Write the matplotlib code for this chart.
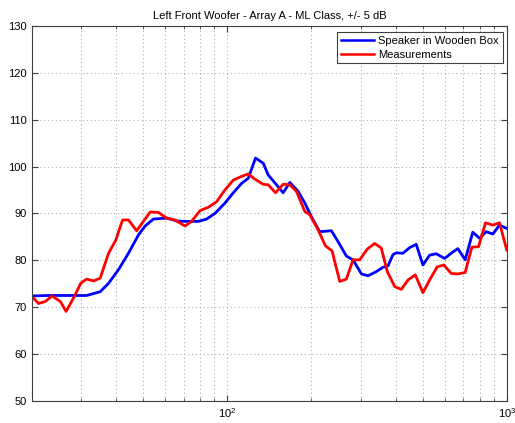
import matplotlib
matplotlib.use("Agg")
import matplotlib.pyplot as plt
from matplotlib.ticker import LogLocator, FixedLocator, NullFormatter

plt.rcParams['font.family'] = ['Liberation Sans', 'DejaVu Sans']

title = "Left Front Woofer - Array A - ML Class, +/- 5 dB"
label_box = "Speaker in Wooden Box"
label_meas = "Measurements"

box_freq = [20, 22.9, 31.4, 35.1, 37.6, 40.8, 44.3, 48.1, 50.8, 54.4, 60.7, 65.9,
            70.6, 78.8, 84.3, 90.4, 98.1, 105.1, 112.5, 118.9, 126.2, 134.5, 140.1,
            150, 158.5, 167.4, 179.3, 189.5, 200, 214.3, 235.8, 249, 266.8, 281.8,
            302, 318.9, 341.5, 360.6, 375.8, 391.5, 402.4, 425.3, 449.3, 474.3,
            501.2, 529.7, 559.2, 599.2, 632.5, 668.3, 709.9, 756, 799, 843.7,
            891.3, 941.9, 1000]
box_db = [72.4, 72.5, 72.5, 73.3, 75.1, 78.0, 81.5, 85.4, 87.3, 88.8, 89.0, 88.4,
          88.3, 88.3, 88.8, 90.0, 92.2, 94.4, 96.4, 97.5, 101.8, 100.7, 98.2,
          96.1, 94.4, 96.6, 94.7, 92.2, 89.3, 86.1, 86.3, 84.0, 80.9, 80.1,
          77.1, 76.7, 77.6, 78.5, 78.8, 81.2, 81.6, 81.5, 82.7, 83.4,
          79.0, 81.1, 81.4, 80.4, 81.5, 82.5, 80.1, 86.0, 84.7, 86.1,
          85.6, 87.5, 86.8]

meas_freq = [20, 21.1, 22.3, 23.6, 25.3, 26.5, 28.2, 29.9, 31.4, 33.2, 35.1, 37.6,
             39.9, 42.2, 44.3, 47.4, 50.1, 53.0, 56.7, 60.7, 65.0, 70.6, 74.5,
             79.9, 85.5, 91.6, 98.1, 105.1, 112.5, 118.9, 125.6, 134.5, 140.1,
             148.8, 158.5, 167.4, 176.8, 189.5, 197.4, 211.3, 224.4, 237.1, 252.6,
             266.8, 281.8, 297.8, 316.9, 337, 355.7, 373.7, 397.2, 419.4, 443.1,
             470.5, 501.2, 529.7, 563.6, 595.7, 632.5, 668.3, 709.9, 749.9, 792.5,
             839.5, 891.3, 941.9, 1000]
meas_db = [72.3, 70.8, 71.2, 72.4, 71.2, 69.1, 72.0, 75.1, 76.0, 75.6, 76.2, 81.5,
           84.3, 88.6, 88.6, 86.3, 88.3, 90.3, 90.2, 89.0, 88.6, 87.3, 88.3,
           90.6, 91.3, 92.5, 95.0, 97.1, 97.9, 98.4, 97.3, 96.2, 96.1,
           94.4, 96.2, 96.1, 94.7, 90.4, 89.7, 86.5, 83.1, 82.0, 75.5,
           76.0, 80.1, 80.1, 82.4, 83.6, 82.6, 77.6, 74.4, 73.8, 75.8,
           76.9, 73.1, 75.8, 78.6, 79.0, 77.2, 77.1, 77.4, 82.8, 82.9,
           88.0, 87.5, 88.0, 82.2]

y_ticks = [50, 60, 70, 80, 90, 100, 110, 120, 130]

fig = plt.figure(figsize=(5.15, 4.23), dpi=100)
ax = fig.add_axes([0.062, 0.052, 0.922, 0.887])

ax.semilogx(box_freq, box_db, color=(0, 0, 1), lw=2, label=label_box)
ax.semilogx(meas_freq, meas_db, color=(1, 0, 0), lw=2, label=label_meas)

ax.set_xlim(20, 1000)
ax.set_ylim(50, 130)
ax.set_yticks(y_ticks)
ax.xaxis.set_major_locator(FixedLocator([100, 1000]))
ax.xaxis.set_minor_locator(LogLocator(base=10, subs=range(2, 10)))
ax.xaxis.set_minor_formatter(NullFormatter())

ax.grid(True, which='major', ls=(0, (1, 2.5)), color='#b0b0b0', lw=0.8)
ax.grid(True, which='minor', axis='x', ls=(0, (1, 2.5)), color='#b0b0b0', lw=0.8)

ax.tick_params(which='both', direction='in', top=True, right=True, labelsize=8,
               color='#404040')
ax.tick_params(which='major', length=4)
ax.tick_params(which='minor', length=2.5)
for s in ax.spines.values():
    s.set_color('#404040')
    s.set_linewidth(0.8)

ax.set_title(title, fontsize=8, pad=5)
leg = ax.legend(loc='upper right', bbox_to_anchor=(0.992, 0.984), borderaxespad=0,
                fontsize=8, fancybox=False, framealpha=1,
                edgecolor='#404040', borderpad=0.35, handlelength=3.0,
                handletextpad=0.4, labelspacing=0.35)
leg.get_frame().set_linewidth(0.8)
for h in leg.get_lines():
    h.set_linewidth(1.8)

fig.savefig("out.png", dpi=100)
